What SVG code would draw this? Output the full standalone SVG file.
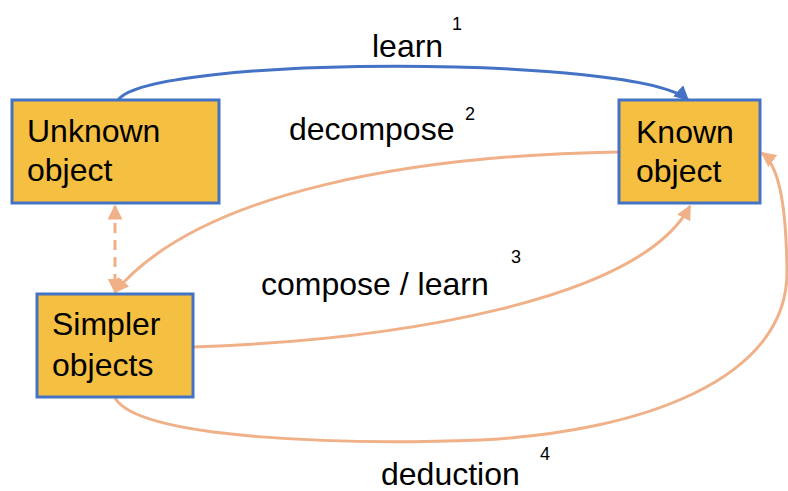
<svg xmlns="http://www.w3.org/2000/svg" width="788" height="491" viewBox="0 0 788 491">
<style>
.box{fill:#F5BF41;stroke:#4472C4;stroke-width:3}
.nt{font-family:"Liberation Sans",Arial,sans-serif;font-size:32px;fill:#000}
.lb{font-family:"Liberation Sans",Arial,sans-serif;font-size:32px;fill:#000}
.sup{font-family:"Liberation Sans",Arial,sans-serif;font-size:18px;fill:#000}
.blue{fill:none;stroke:#4472C4;stroke-width:3}
.org{fill:none;stroke:#F0B088;stroke-width:3}
</style>
<defs>
<marker id="ab" viewBox="0 0 10 10" refX="9" refY="5" markerWidth="5" markerHeight="5" orient="auto" markerUnits="strokeWidth"><path d="M0,0 L10,5 L0,10 z" fill="#4472C4"/></marker>
<marker id="ao" viewBox="0 0 10 10" refX="9" refY="5" markerWidth="5" markerHeight="5" orient="auto-start-reverse" markerUnits="strokeWidth"><path d="M0,0 L10,5 L0,10 z" fill="#F0B088"/></marker>
</defs>
<g id="connectors">
<path class="blue" d="M118,100 C150,55 640,55 688,100" marker-end="url(#ab)"/>
<path class="org" d="M619,152 C420,155 200,190 115,292" marker-end="url(#ao)"/>
<path class="org" d="M115,206 L115,292" stroke-dasharray="10,7" marker-start="url(#ao)" marker-end="url(#ao)"/>
<path class="org" d="M193,347 C400,340 640,300 690,206" marker-end="url(#ao)"/>
<path class="org" d="M115,398 C140,440 350,445 480,440 C640,432 789,380 787,270 C786,200 778,165 762,153" marker-end="url(#ao)"/>
</g>
<g id="unknown">
<rect class="box" x="12" y="100" width="207" height="103"/>
<text class="nt" x="27" y="142">Unknown</text>
<text class="nt" x="27" y="181">object</text>
</g>
<g id="known">
<rect class="box" x="619" y="100" width="141" height="103"/>
<text class="nt" x="636" y="143">Known</text>
<text class="nt" x="636" y="182">object</text>
</g>
<g id="simpler">
<rect class="box" x="37" y="294" width="156" height="103"/>
<text class="nt" x="52" y="335">Simpler</text>
<text class="nt" x="52" y="376">objects</text>
</g>
<g id="labels">
<text class="lb" x="372" y="57">learn</text>
<text class="sup" x="452" y="30">1</text>
<text class="lb" x="289" y="140">decompose</text>
<text class="sup" x="465" y="120">2</text>
<text class="lb" x="261" y="295">compose / learn</text>
<text class="sup" x="511" y="263">3</text>
<text class="lb" x="381" y="485">deduction</text>
<text class="sup" x="540" y="460">4</text>
</g>
</svg>
